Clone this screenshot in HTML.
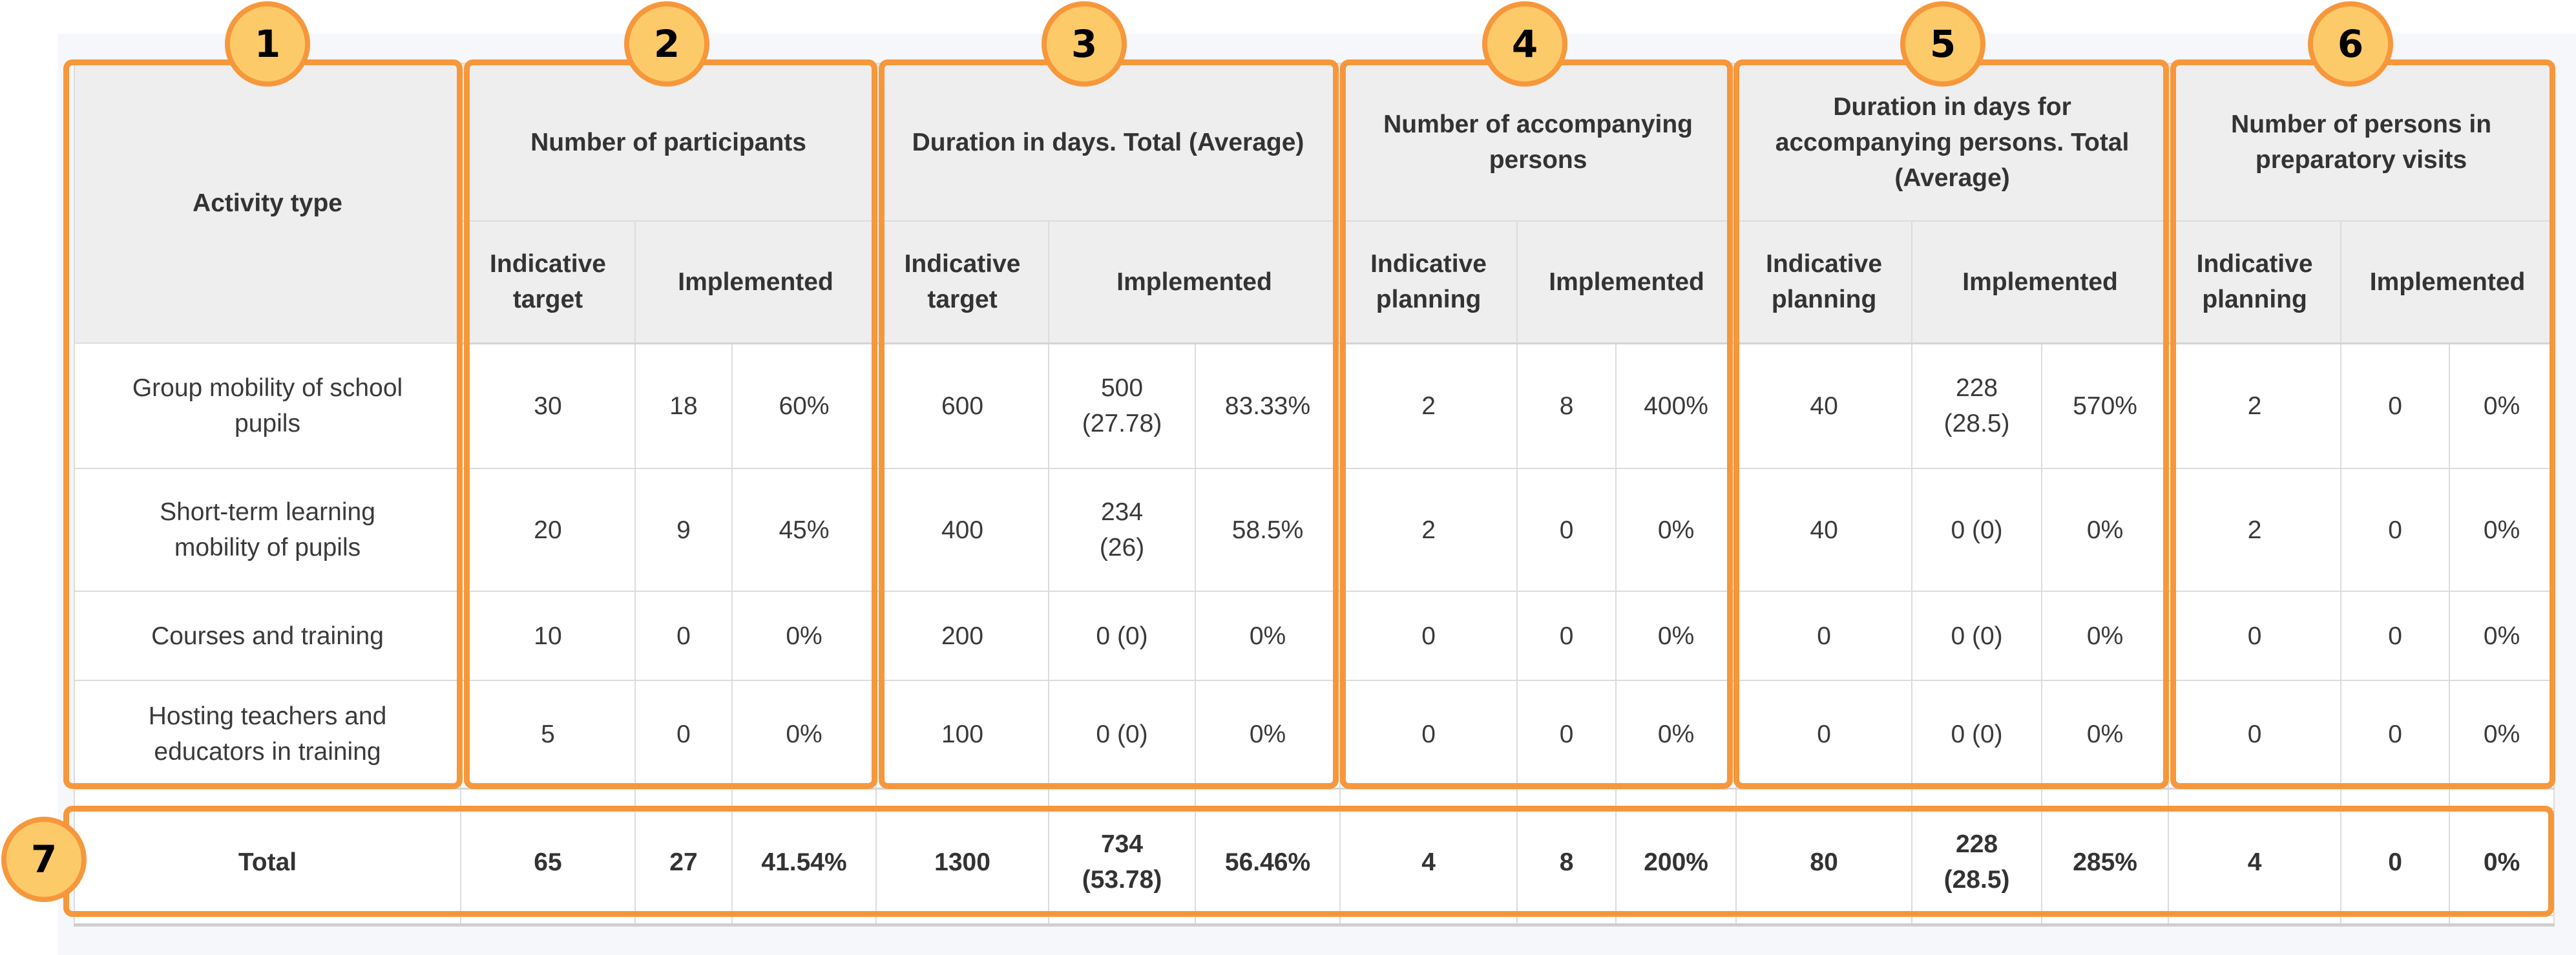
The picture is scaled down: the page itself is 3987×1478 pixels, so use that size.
<!DOCTYPE html>
<html><head><meta charset="utf-8">
<style>
html,body{margin:0;padding:0;}
body{width:3987px;height:1478px;position:relative;background:#fff;overflow:hidden;font-family:"Liberation Sans",Arial,sans-serif;}
.bg{position:absolute;left:89px;top:52px;width:3898px;height:1426px;background:#f5f7fa;}
table{position:absolute;left:114px;top:97px;border-collapse:collapse;table-layout:fixed;width:3838px;}
td,th{border:2px solid #dcdcdc;text-align:center;vertical-align:middle;padding:0;font-size:39px;line-height:55px;color:#3a3a3a;}
th{background:#eeeeee;font-weight:bold;color:#333;}
td{background:#fff;}
tr.hb th{border-bottom:3px solid #d4d4d4;}
tr.tot td{font-weight:bold;color:#333;}
tr.sp td{background:#fff;border-top:3px solid #d4d4d4;}
tr.sp2 td{background:#fff;border-bottom:5px solid #cfcfcf;}
.box{position:absolute;border:9px solid #f7973b;border-radius:14px;box-sizing:border-box;}
.num{position:absolute;width:132px;height:132px;border-radius:50%;background:#fdca6a;border:8px solid #f7973b;box-sizing:border-box;display:flex;align-items:center;justify-content:center;font-family:"DejaVu Sans","Liberation Sans",sans-serif;font-weight:bold;font-size:58px;color:#000;}
</style></head>
<body>
<div class="bg"></div>
<table>
<colgroup>
<col style="width:598px"><col style="width:270px"><col style="width:150px"><col style="width:223px">
<col style="width:267px"><col style="width:227px"><col style="width:224px">
<col style="width:274px"><col style="width:153px"><col style="width:186px">
<col style="width:272px"><col style="width:201px"><col style="width:196px">
<col style="width:267px"><col style="width:168px"><col style="width:162px">
</colgroup>
<tr style="height:244px">
<th rowspan="2">Activity type</th>
<th colspan="3">Number of participants</th>
<th colspan="3">Duration in days. Total (Average)</th>
<th colspan="3">Number of accompanying<br>persons</th>
<th colspan="3">Duration in days for<br>accompanying persons. Total<br>(Average)</th>
<th colspan="3">Number of persons in<br>preparatory visits</th>
</tr>
<tr class="hb" style="height:189px">
<th>Indicative<br>target</th><th colspan="2">Implemented</th>
<th>Indicative<br>target</th><th colspan="2">Implemented</th>
<th>Indicative<br>planning</th><th colspan="2">Implemented</th>
<th>Indicative<br>planning</th><th colspan="2">Implemented</th>
<th>Indicative<br>planning</th><th colspan="2">Implemented</th>
</tr>
<tr style="height:194px">
<td>Group mobility of school<br>pupils</td><td>30</td><td>18</td><td>60%</td><td>600</td><td>500<br>(27.78)</td><td>83.33%</td><td>2</td><td>8</td><td>400%</td><td>40</td><td>228<br>(28.5)</td><td>570%</td><td>2</td><td>0</td><td>0%</td>
</tr>
<tr style="height:190px">
<td>Short-term learning<br>mobility of pupils</td><td>20</td><td>9</td><td>45%</td><td>400</td><td>234<br>(26)</td><td>58.5%</td><td>2</td><td>0</td><td>0%</td><td>40</td><td>0 (0)</td><td>0%</td><td>2</td><td>0</td><td>0%</td>
</tr>
<tr style="height:138px">
<td>Courses and training</td><td>10</td><td>0</td><td>0%</td><td>200</td><td>0 (0)</td><td>0%</td><td>0</td><td>0</td><td>0%</td><td>0</td><td>0 (0)</td><td>0%</td><td>0</td><td>0</td><td>0%</td>
</tr>
<tr style="height:167px">
<td>Hosting teachers and<br>educators in training</td><td>5</td><td>0</td><td>0%</td><td>100</td><td>0 (0)</td><td>0%</td><td>0</td><td>0</td><td>0%</td><td>0</td><td>0 (0)</td><td>0%</td><td>0</td><td>0</td><td>0%</td>
</tr>
<tr class="sp" style="height:31px"><td></td><td></td><td></td><td></td><td></td><td></td><td></td><td></td><td></td><td></td><td></td><td></td><td></td><td></td><td></td><td></td></tr>
<tr class="tot" style="height:166px">
<td>Total</td><td>65</td><td>27</td><td>41.54%</td><td>1300</td><td>734<br>(53.78)</td><td>56.46%</td><td>4</td><td>8</td><td>200%</td><td>80</td><td>228<br>(28.5)</td><td>285%</td><td>4</td><td>0</td><td>0%</td>
</tr>
<tr class="sp2" style="height:14px"><td></td><td></td><td></td><td></td><td></td><td></td><td></td><td></td><td></td><td></td><td></td><td></td><td></td><td></td><td></td><td></td></tr>
</table>

<div class="box" style="left:98px;top:92px;width:618px;height:1129px"></div>
<div class="box" style="left:718px;top:92px;width:640px;height:1129px"></div>
<div class="box" style="left:1360px;top:92px;width:712px;height:1129px"></div>
<div class="box" style="left:2074px;top:92px;width:608px;height:1129px"></div>
<div class="box" style="left:2683px;top:92px;width:674px;height:1129px"></div>
<div class="box" style="left:3359px;top:92px;width:596px;height:1129px"></div>
<div class="box" style="left:98px;top:1247px;width:3855px;height:172px"></div>

<div class="num" style="left:348px;top:2px">1</div>
<div class="num" style="left:966px;top:2px">2</div>
<div class="num" style="left:1612px;top:2px">3</div>
<div class="num" style="left:2294px;top:2px">4</div>
<div class="num" style="left:2941px;top:2px">5</div>
<div class="num" style="left:3572px;top:2px">6</div>
<div class="num" style="left:2px;top:1264px">7</div>
</body></html>
